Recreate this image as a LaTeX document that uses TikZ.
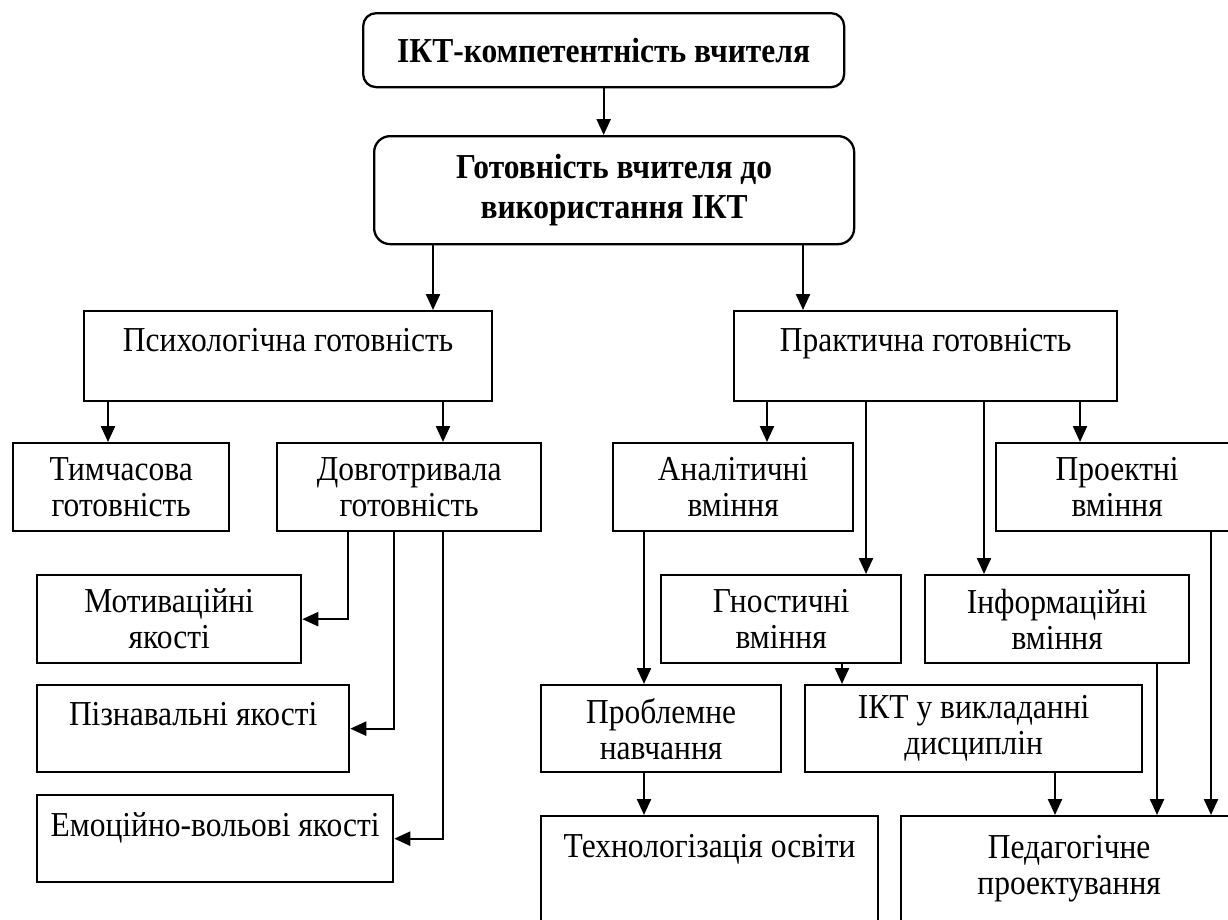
\documentclass[tikz,border=0pt]{standalone}
\usepackage{fontspec}
\setmainfont{Liberation Serif}[FakeStretch=0.9]
\usetikzlibrary{arrows.meta}
\newcommand\dgfont{\fontsize{35}{36}\selectfont}
\newcommand\dgbold{\fontsize{35}{40}\selectfont\bfseries}
\newcommand\vlink[4]{\coordinate (#4) at ([xshift=#2pt]#1.south west); \draw[arr] (#4) -- (#4 |- #3.north);}
\begin{document}
\begin{tikzpicture}[x=1pt,y=-1pt,
  bx/.style={draw,line width=2.3pt,anchor=north west,inner sep=0pt,align=center,font=\dgfont},
  rbx/.style={bx,rounded corners=13pt,font=\dgbold},
  txt/.style={anchor=north,inner sep=0pt,align=center,font=\dgfont},
  arr/.style={line width=2.3pt,-{Triangle[length=16pt,width=14pt]}}]
\clip (0,0) rectangle (1228,919);
\fill[white] (0,0) rectangle (1228,919);
% top boxes
\node[rbx,minimum width=481pt,minimum height=74pt] (top) at (362,12) {ІКТ-компетентність вчителя};
\node[rbx,rounded corners=16pt,minimum width=480pt,minimum height=108pt] (ready) at (373,135) {Готовність вчителя до\\використання ІКТ};
% level 2
\node[bx,minimum width=408pt,minimum height=90pt] (psy) at (83,310) {};
\node[txt] (psyT) at ([yshift=-18pt]psy.north) {Психологічна готовність};
\node[bx,minimum width=383pt,minimum height=90pt] (prak) at (733,310) {};
\node[txt] (prakT) at ([yshift=-18pt]prak.north) {Практична готовність};
% left branch
\node[bx,minimum width=216pt,minimum height=88pt] (tym) at (12,442) {Тимчасова\\готовність};
\node[bx,minimum width=264pt,minimum height=88pt] (dov) at (276,442) {Довготривала\\готовність};
\node[bx,minimum width=264pt,minimum height=88pt] (mot) at (36,574) {Мотиваційні\\якості};
\node[bx,minimum width=312pt,minimum height=87pt] (piz) at (36,684) {};
\node[txt] (pizT) at ([yshift=-18pt]piz.north) {Пізнавальні якості};
\node[bx,minimum width=356pt,minimum height=87pt] (emo) at (36,794) {};
\node[txt] (emoT) at ([yshift=-18pt]emo.north) {Емоційно-вольові якості};
% right branch
\node[bx,minimum width=240pt,minimum height=88pt] (ana) at (612,442) {Аналітичні\\вміння};
\node[bx,minimum width=242pt,minimum height=88pt] (proj) at (995,442) {Проектні\\вміння};
\node[bx,minimum width=240pt,minimum height=88pt] (gno) at (660,574) {Гностичні\\вміння};
\node[bx,minimum width=264pt,minimum height=88pt] (inf) at (924,574) {Інформаційні\\вміння};
\node[bx,minimum width=240pt,minimum height=87pt] (prb) at (540,684) {Проблемне\\навчання};
\node[bx,minimum width=337pt,minimum height=87pt] (ikt) at (804,684) {ІКТ у викладанні\\дисциплін};
\node[bx,minimum width=337pt,minimum height=130pt] (tec) at (540,815) {};
\node[txt] (tecT) at ([yshift=-19pt]tec.north) {Технологізація освіти};
\node[bx,minimum width=336pt,minimum height=130pt] (ped) at (900,815) {};
\node[txt] (pedT) at ([yshift=-20pt]ped.north) {Педагогічне\\проектування};
% connectors
\draw[arr] (top.south) -- (top.south |- ready.north);
\vlink{ready}{60}{psy}{c1}
\vlink{ready}{430}{prak}{c2}
\vlink{psy}{25}{tym}{c3}
\vlink{psy}{360}{dov}{c4}
\vlink{prak}{34}{ana}{c5}
\vlink{prak}{133}{gno}{c6}
\vlink{prak}{251}{inf}{c7}
\vlink{prak}{347}{proj}{c8}
\vlink{ana}{32}{prb}{c9}
\vlink{gno}{182}{ikt}{c10}
\vlink{prb}{104}{tec}{c11}
\vlink{ikt}{251}{ped}{c12}
\vlink{inf}{233}{ped}{c13}
\vlink{proj}{216}{ped}{c14}
\coordinate (d1) at ([xshift=72pt]dov.south west);
\draw[arr] (d1) |- (mot.east);
\coordinate (d2) at ([xshift=118pt]dov.south west);
\draw[arr] (d2) |- (piz.east);
\coordinate (d3) at ([xshift=167pt]dov.south west);
\draw[arr] (d3) |- (emo.east);
\end{tikzpicture}
\end{document}
